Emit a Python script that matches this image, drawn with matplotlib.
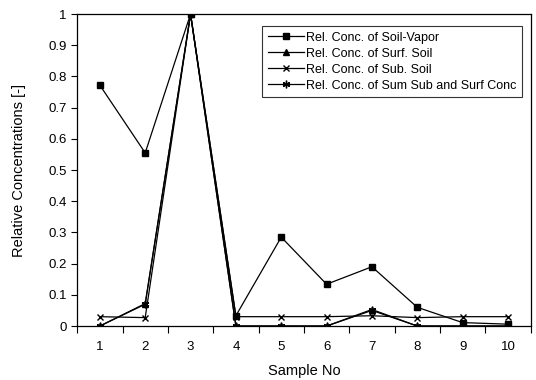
import matplotlib
matplotlib.use("Agg")
import matplotlib.pyplot as plt
import numpy as np

plt.rcParams['font.family'] = ['Liberation Sans', 'DejaVu Sans']

samples = [1, 2, 3, 4, 5, 6, 7, 8, 9, 10]
soil_vapor = [0.772, 0.555, 1.0, 0.033, 0.285, 0.134, 0.19, 0.06, 0.011, 0.006]
surf_soil = [0.0, 0.07, 1.0, 0.0, 0.0, 0.0, 0.05, 0.0, 0.0, 0.0]
sub_soil = [0.03, 0.027, 1.0, 0.03, 0.03, 0.03, 0.033, 0.027, 0.03, 0.03]
sum_conc = [0.0, 0.072, 1.0, 0.0, 0.0, 0.0, 0.053, 0.0, 0.0, 0.0]

fig = plt.figure(figsize=(5.36, 3.80), dpi=100)
ax = fig.add_axes([0.144, 0.142, 0.846, 0.821])

ax.plot(samples, soil_vapor, color='black', lw=0.9, marker='s', ms=4.5,
        label='Rel. Conc. of Soil-Vapor')
ax.plot(samples, surf_soil, color='black', lw=0.9, marker='^', ms=4.5,
        label='Rel. Conc. of Surf. Soil')
ax.plot(samples, sub_soil, color='black', lw=0.9, marker='x', ms=5, mew=1.0,
        label='Rel. Conc. of Sub. Soil')
ax.plot(samples, sum_conc, color='black', lw=0.9, marker=(6, 2, 0), ms=5.5, mew=1.0,
        label='Rel. Conc. of Sum Sub and Surf Conc')

ax.set_xlim(0.5, 10.5)
ax.set_ylim(0, 1)
ax.set_yticks(np.arange(0, 1.01, 0.1))
ax.set_yticklabels(['0', '0.1', '0.2', '0.3', '0.4', '0.5', '0.6', '0.7', '0.8', '0.9', '1'])
ax.set_xticks(samples)
ax.set_xticks(np.arange(0.5, 10.6, 1), minor=True)
ax.tick_params(axis='x', which='major', length=0, pad=11, labelsize=9.5)
ax.tick_params(axis='x', which='minor', length=5, width=0.8, direction='out')
ax.tick_params(axis='y', length=4, width=0.8, direction='out', labelsize=9.5)

for s in ax.spines.values():
    s.set_linewidth(0.9)

ax.set_xlabel('Sample No', fontsize=10.5, labelpad=8)
ax.set_ylabel('Relative Concentrations [-]', fontsize=10.5, labelpad=16)

leg = ax.legend(loc='upper right', bbox_to_anchor=(0.981, 0.962), fontsize=9,
                frameon=True, fancybox=False, edgecolor='black', handlelength=2.9,
                handletextpad=0.15, borderpad=0.45, borderaxespad=0,
                labelspacing=0.32)
leg.get_frame().set_linewidth(0.8)

fig.savefig('out.png', dpi=100)
